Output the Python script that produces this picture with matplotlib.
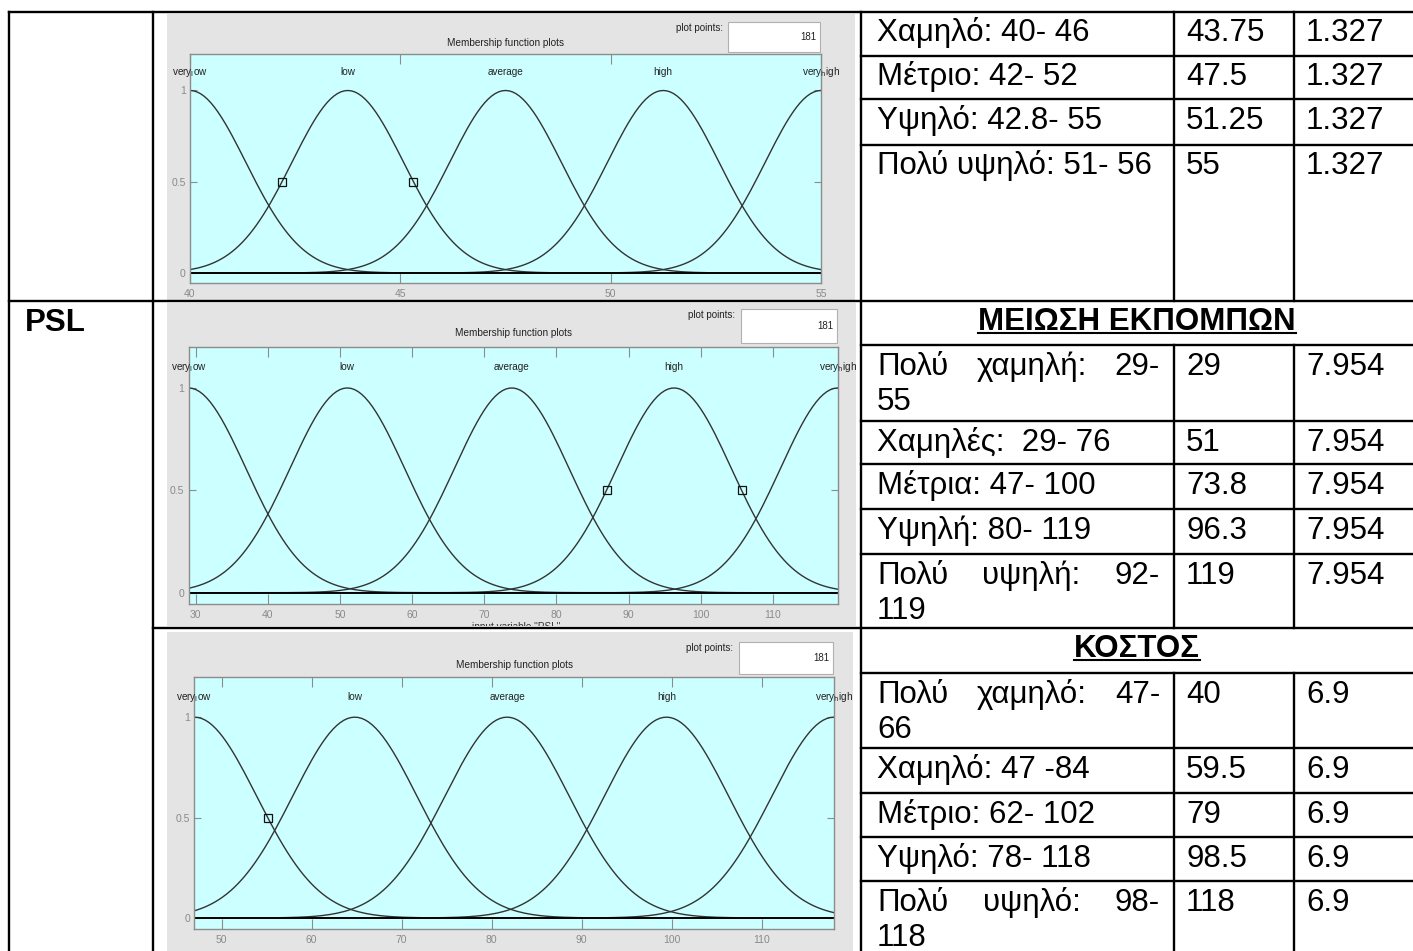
import matplotlib.pyplot as plt
import numpy as np
from matplotlib import font_manager
from matplotlib.patches import Rectangle
from matplotlib.transforms import Bbox

W, H = 1413, 951

# membership functions (gaussmf) shown in the three panels
mf_labels = [r"very$_{\mathrm{l}}$ow", "low", "average", "high", r"very$_{\mathrm{h}}$igh"]

range_1 = [40, 55]
centers_1 = [40, 43.75, 47.5, 51.25, 55]
sigma_1 = 1.327
ticks_1 = [40, 45, 50, 55]
selected_1 = 1

range_2 = [29, 119]
centers_2 = [29, 51, 73.8, 96.3, 119]
sigma_2 = 7.954
ticks_2 = [30, 40, 50, 60, 70, 80, 90, 100, 110]
selected_2 = 3

range_3 = [47, 118]
centers_3 = [47, 64.8, 81.7, 99.4, 118]
sigma_3 = 6.9
ticks_3 = [50, 60, 70, 80, 90, 100, 110]
selected_3 = 0

plot_points = "181"

# table contents (label lines, centre, sigma)
rows_top = [
    (["Χαμηλό: 40- 46"], "43.75", "1.327"),
    (["Μέτριο: 42- 52"], "47.5", "1.327"),
    (["Υψηλό: 42.8- 55"], "51.25", "1.327"),
    (["Πολύ υψηλό: 51- 56"], "55", "1.327"),
]
header_emissions = "ΜΕΙΩΣΗ ΕΚΠΟΜΠΩΝ"
rows_emissions = [
    (["Πολύ χαμηλή: 29-", "55"], "29", "7.954"),
    (["Χαμηλές:  29- 76"], "51", "7.954"),
    (["Μέτρια: 47- 100"], "73.8", "7.954"),
    (["Υψηλή: 80- 119"], "96.3", "7.954"),
    (["Πολύ υψηλή: 92-", "119"], "119", "7.954"),
]
header_cost = "ΚΟΣΤΟΣ"
rows_cost = [
    (["Πολύ χαμηλό: 47-", "66"], "40", "6.9"),
    (["Χαμηλό: 47 -84"], "59.5", "6.9"),
    (["Μέτριο: 62- 102"], "79", "6.9"),
    (["Υψηλό: 78- 118"], "98.5", "6.9"),
    (["Πολύ υψηλό: 98-", "118"], "118", "6.9"),
]
row_label = "PSL"

# fonts
installed = {f.name for f in font_manager.fontManager.ttflist}
NARROW = "Liberation Sans Narrow" if "Liberation Sans Narrow" in installed else "Liberation Sans"
plt.rcParams["font.family"] = ["Liberation Sans", "DejaVu Sans"]

PANEL_GRAY = "#e4e4e4"
AXES_CYAN = "#ccffff"
FRAME_GRAY = "#8c8c8c"
CELL = dict(fontsize=22.5, va="baseline", color="black")

fig = plt.figure(figsize=(W / 100, H / 100), dpi=100)
page = fig.add_axes([0, 0, 1, 1])
page.set_xlim(0, W)
page.set_ylim(H, 0)
page.axis("off")
renderer = fig.canvas.get_renderer()


def px_rect(x0, y0, x1, y1):
    return [x0 / W, 1 - y1 / H, (x1 - x0) / W, (y1 - y0) / H]


def draw_panel(box, axes_box, title_y, pts_box, xr, centers, sigma, ticks, selected):
    x0, y0, x1, y1 = box
    page.add_patch(Rectangle((x0, y0), x1 - x0, y1 - y0, facecolor=PANEL_GRAY,
                             edgecolor="none", zorder=0.5))
    ax0, ay0, ax1, ay1 = axes_box
    page.text((ax0 + ax1) / 2, title_y, "Membership function plots", ha="center",
              va="center", fontsize=7.2, family=NARROW, color="#222222")
    bx0, by0, bx1, by1 = pts_box
    page.add_patch(Rectangle((bx0, by0), bx1 - bx0, by1 - by0, facecolor="white",
                             edgecolor="#b0b0b0", lw=0.8, zorder=1))
    page.text(bx0 - 29, by0 + 6, "plot points:", ha="center", va="center",
              fontsize=7, family=NARROW, color="#222222")
    page.text(bx1 - 4, (by0 + by1) / 2, plot_points, ha="right", va="center",
              fontsize=7, family=NARROW, color="#222222", zorder=2)

    ax = fig.add_axes(px_rect(*axes_box))
    ax.set_facecolor(AXES_CYAN)
    x = np.linspace(xr[0], xr[1], 181)
    for c, lab in zip(centers, mf_labels):
        ax.plot(x, np.exp(-(x - c) ** 2 / (2 * sigma ** 2)), color="#333333", lw=1.0)
        ax.text(c, 1.1, lab, ha="center", va="center", fontsize=7.2,
                family=NARROW, color="#222222")
    ax.axhline(0, color="black", lw=1.3)
    half = sigma * np.sqrt(2 * np.log(2))
    for xs in (centers[selected] - half, centers[selected] + half):
        if xr[0] <= xs <= xr[1]:
            ax.plot(xs, 0.5, marker="s", ms=5.5, mfc="none", mec="#111111", mew=0.9)

    ax.set_xlim(xr)
    ax.set_ylim(-0.055, 1.2)
    ax.set_xticks(ticks)
    ax.set_yticks([0, 0.5, 1])
    ax.set_yticklabels(["0", "0.5", "1"])
    ax.tick_params(axis="both", direction="in", top=True, right=True,
                   color=FRAME_GRAY, labelcolor="#8a8a8a", labelsize=7.5, width=0.8)
    ax.tick_params(axis="x", length=7, pad=4)
    ax.tick_params(axis="y", length=5, pad=3)
    for lbl in ax.get_xticklabels() + ax.get_yticklabels():
        lbl.set_family(NARROW)
    for sp in ax.spines.values():
        sp.set_color(FRAME_GRAY)
        sp.set_linewidth(1.0)


draw_panel((167, 14, 855, 300), (190, 54, 821, 283), 43, (728, 22, 820, 52),
           range_1, centers_1, sigma_1, ticks_1, selected_1)
draw_panel((167, 303, 856, 626), (188.6, 347, 837.8, 604), 333, (741, 309, 837, 343),
           range_2, centers_2, sigma_2, ticks_2, selected_2)
draw_panel((167, 632, 853, 951), (194.5, 677, 834, 929), 665, (739, 642, 833, 674),
           range_3, centers_3, sigma_3, ticks_3, selected_3)

# x-axis caption of the middle panel, cut off by the cell edge
cut = page.text(516, 622, 'input variable "PSL"', ha="center", va="top",
                fontsize=7.2, family=NARROW, color="#333333")
cut.set_clip_box(Bbox.from_extents(167, H - 626, 856, H - 303))
cut.set_clip_on(True)

# table grid
def hline(y, x0, x1):
    page.plot([x0, x1], [y, y], color="black", lw=1.7, solid_capstyle="projecting", zorder=3)


def vline(x, y0, y1):
    page.plot([x, x], [y0, y1], color="black", lw=1.7, solid_capstyle="projecting", zorder=3)


hline(12, 9, W)
hline(301, 9, W)
hline(628, 153, W)
for x in (9, 153, 861):
    vline(x, 12, H)
for y0, y1 in ((12, 301), (345, 628), (673, H)):
    vline(1174, y0, y1)
    vline(1294, y0, y1)
for y in (56, 99, 145, 345, 421, 464, 509, 554, 673, 748, 793, 837, 881):
    hline(y, 861, W)

page.text(25, 331, row_label, fontweight="bold", **CELL)

COL_X = [877, 1186, 1306]
JUSTIFY_RIGHT = 1160


def justified(words, y):
    items = [page.text(0, y, w, **CELL) for w in words]
    widths = [t.get_window_extent(renderer).width for t in items]
    gap = (JUSTIFY_RIGHT - COL_X[0] - sum(widths)) / (len(items) - 1)
    x = COL_X[0]
    for t, w in zip(items, widths):
        t.set_x(x)
        x += w + gap


def fill_rows(rows, tops):
    for (lines, centre, sigma), top in zip(rows, tops):
        base = top + 30
        for i, line in enumerate(lines):
            y = base + 35 * i
            if i < len(lines) - 1:
                justified(line.split(), y)
            else:
                page.text(COL_X[0], y, line, **CELL)
        page.text(COL_X[1], base, centre, **CELL)
        page.text(COL_X[2], base, sigma, **CELL)


def header(text, top):
    t = page.text((861 + W) / 2, top + 29, text, ha="center", fontweight="bold", **CELL)
    bb = t.get_window_extent(renderer)
    page.plot([bb.x0, bb.x1], [top + 32, top + 32], color="black", lw=1.5)


fill_rows(rows_top, [11, 55, 99, 144])
header(header_emissions, 301)
fill_rows(rows_emissions, [345, 421, 464, 509, 554])
header(header_cost, 628)
fill_rows(rows_cost, [673, 748, 793, 837, 881])

fig.savefig("out.png", dpi=100)
